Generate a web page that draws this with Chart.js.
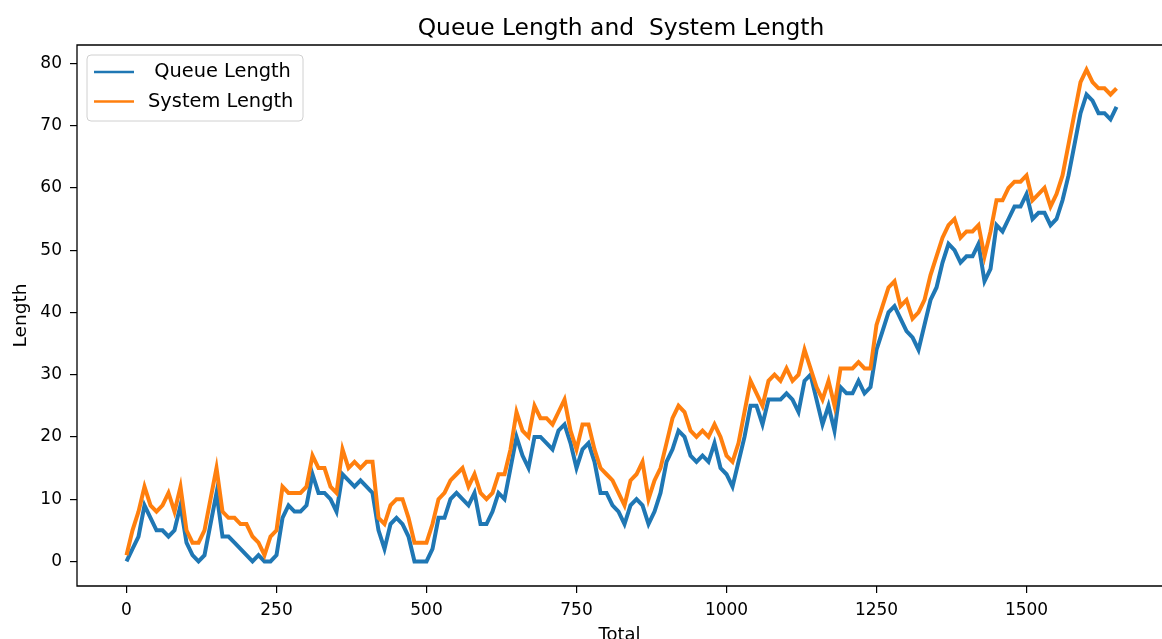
<!DOCTYPE html>
<html lang="en">
<head>
<meta charset="UTF-8">
<title>Queue Length and System Length</title>
<script src="https://cdn.jsdelivr.net/npm/chart.js"></script>
<style>
    html, body { margin: 0; padding: 0; background: #fff; overflow: hidden; }
    #wrap { width: 1162px; height: 666px; }
</style>
</head>
<body>
<div id="wrap"><canvas id="myChart" width="1162" height="666"></canvas></div>
<script>
// one sample every 10 customers (x = 0, 10, ... 1650)
const sampleStep = 10;
const queueLength = [
    0, 2, 4, 9, 7, 5, 5, 4, 5, 9,
    3, 1, 0, 1, 6, 11, 4, 4, 3, 2,
    1, 0, 1, 0, 0, 1, 7, 9, 8, 8,
    9, 14, 11, 11, 10, 8, 14, 13, 12, 13,
    12, 11, 5, 2, 6, 7, 6, 4, 0, 0,
    0, 2, 7, 7, 10, 11, 10, 9, 11, 6,
    6, 8, 11, 10, 15, 20, 17, 15, 20, 20,
    19, 18, 21, 22, 19, 15, 18, 19, 16, 11,
    11, 9, 8, 6, 9, 10, 9, 6, 8, 11,
    16, 18, 21, 20, 17, 16, 17, 16, 19, 15,
    14, 12, 16, 20, 25, 25, 22, 26, 26, 26,
    27, 26, 24, 29, 30, 26, 22, 25, 21, 28,
    27, 27, 29, 27, 28, 34, 37, 40, 41, 39,
    37, 36, 34, 38, 42, 44, 48, 51, 50, 48,
    49, 49, 51, 45, 47, 54, 53, 55, 57, 57,
    59, 55, 56, 56, 54, 55, 58, 62, 67, 72,
    75, 74, 72, 72, 71, 73
];
const systemLength = [
    1, 5, 8, 12, 9, 8, 9, 11, 8, 12,
    5, 3, 3, 5, 10, 15, 8, 7, 7, 6,
    6, 4, 3, 1, 4, 5, 12, 11, 11, 11,
    12, 17, 15, 15, 12, 11, 18, 15, 16, 15,
    16, 16, 7, 6, 9, 10, 10, 7, 3, 3,
    3, 6, 10, 11, 13, 14, 15, 12, 14, 11,
    10, 11, 14, 14, 18, 24, 21, 20, 25, 23,
    23, 22, 24, 26, 21, 18, 22, 22, 18, 15,
    14, 13, 11, 9, 13, 14, 16, 10, 13, 15,
    19, 23, 25, 24, 21, 20, 21, 20, 22, 20,
    17, 16, 19, 24, 29, 27, 25, 29, 30, 29,
    31, 29, 30, 34, 31, 28, 26, 29, 25, 31,
    31, 31, 32, 31, 31, 38, 41, 44, 45, 41,
    42, 39, 40, 42, 46, 49, 52, 54, 55, 52,
    53, 53, 54, 49, 53, 58, 58, 60, 61, 61,
    62, 58, 59, 60, 57, 59, 62, 67, 72, 77,
    79, 77, 76, 76, 75, 76
];
const seriesNames = [' Queue Length', 'System Length'];
const chartTitle = 'Queue Length and  System Length';
const xTicks = [0, 250, 500, 750, 1000, 1250, 1500];
const yTicks = [0, 10, 20, 30, 40, 50, 60, 70, 80];

const FONT = "'DejaVu Sans', Verdana, sans-serif";

function toPoints(values) {
    return values.map((v, i) => ({ x: i * sampleStep, y: v }));
}

// the axes run a little past the right edge of the window (as in the original figure),
// so only top / left / bottom spines are visible; title is centred on the full axes width
const framePlugin = {
    id: 'frame',
    afterDraw(chart) {
        const { ctx, chartArea: ca } = chart;
        ctx.save();
        ctx.fillStyle = '#000';
        ctx.font = '23.4px ' + FONT;
        ctx.textAlign = 'center';
        ctx.textBaseline = 'alphabetic';
        ctx.fillText(chartTitle, 621, 34.5);

        ctx.strokeStyle = '#000';
        ctx.lineWidth = 1.3;
        ctx.beginPath();
        ctx.moveTo(ca.right + 2, ca.top);
        ctx.lineTo(ca.left, ca.top);
        ctx.lineTo(ca.left, ca.bottom);
        ctx.lineTo(ca.right + 2, ca.bottom);
        ctx.stroke();

        const bx = ca.left + 10, by = ca.top + 10, bw = 216, bh = 66;
        ctx.beginPath();
        ctx.roundRect(bx, by, bw, bh, 4);
        ctx.fillStyle = 'rgba(255,255,255,0.8)';
        ctx.fill();
        ctx.strokeStyle = '#d0d0d0';
        ctx.lineWidth = 1;
        ctx.stroke();

        chart.data.datasets.forEach((ds, i) => {
            const y = by + 17 + i * 29.5;
            ctx.beginPath();
            ctx.moveTo(bx + 7, y);
            ctx.lineTo(bx + 47, y);
            ctx.strokeStyle = ds.borderColor;
            ctx.lineWidth = 2.6;
            ctx.stroke();
            ctx.fillStyle = '#000';
            ctx.font = '19.4px ' + FONT;
            ctx.textBaseline = 'middle';
            ctx.textAlign = 'left';
            ctx.fillText(ds.label, bx + 61, y);
        });
        ctx.restore();
    }
};

const ctx = document.getElementById('myChart').getContext('2d');
new Chart(ctx, {
    type: 'line',
    data: {
        datasets: [{
            label: seriesNames[0],
            data: toPoints(queueLength),
            borderColor: '#1f77b4',
            borderWidth: 4,
            pointRadius: 0,
            tension: 0,
            order: 1
        }, {
            label: seriesNames[1],
            data: toPoints(systemLength),
            borderColor: '#ff7f0e',
            borderWidth: 4,
            pointRadius: 0,
            tension: 0,
            order: 0
        }]
    },
    options: {
        responsive: false,
        animation: false,
        devicePixelRatio: 1,
        layout: { padding: { left: 0, right: 0, top: 45, bottom: 0 } },
        plugins: {
            legend: { display: false },
            tooltip: { enabled: false },
            title: { display: false }
        },
        scales: {
            x: {
                type: 'linear',
                min: -82.5,
                max: 1725.8,
                afterBuildTicks: s => { s.ticks = xTicks.map(v => ({ value: v })); },
                afterFit: s => { s.height = 80; },
                ticks: {
                    color: '#000',
                    font: { family: FONT, size: 17 },
                    padding: 7,
                    maxRotation: 0,
                    callback: v => String(v)
                },
                grid: { drawOnChartArea: false, drawTicks: true, tickLength: 7, color: '#000', lineWidth: 1.2 },
                border: { display: false },
                title: {
                    display: true,
                    text: 'Total',
                    color: '#000',
                    font: { family: FONT, size: 18 },
                    padding: { top: 0, bottom: 20 }
                }
            },
            y: {
                type: 'linear',
                min: -3.95,
                max: 82.95,
                afterBuildTicks: s => { s.ticks = yTicks.map(v => ({ value: v })); },
                afterFit: s => { s.width = 77; },
                ticks: {
                    color: '#000',
                    font: { family: FONT, size: 17 },
                    padding: 8
                },
                grid: { drawOnChartArea: false, drawTicks: true, tickLength: 7, color: '#000', lineWidth: 1.2 },
                border: { display: false },
                title: {
                    display: true,
                    text: 'Length',
                    color: '#000',
                    font: { family: FONT, size: 18.5 },
                    padding: { top: 10, bottom: 0 }
                }
            }
        }
    },
    plugins: [framePlugin]
});
</script>
</body>
</html>
